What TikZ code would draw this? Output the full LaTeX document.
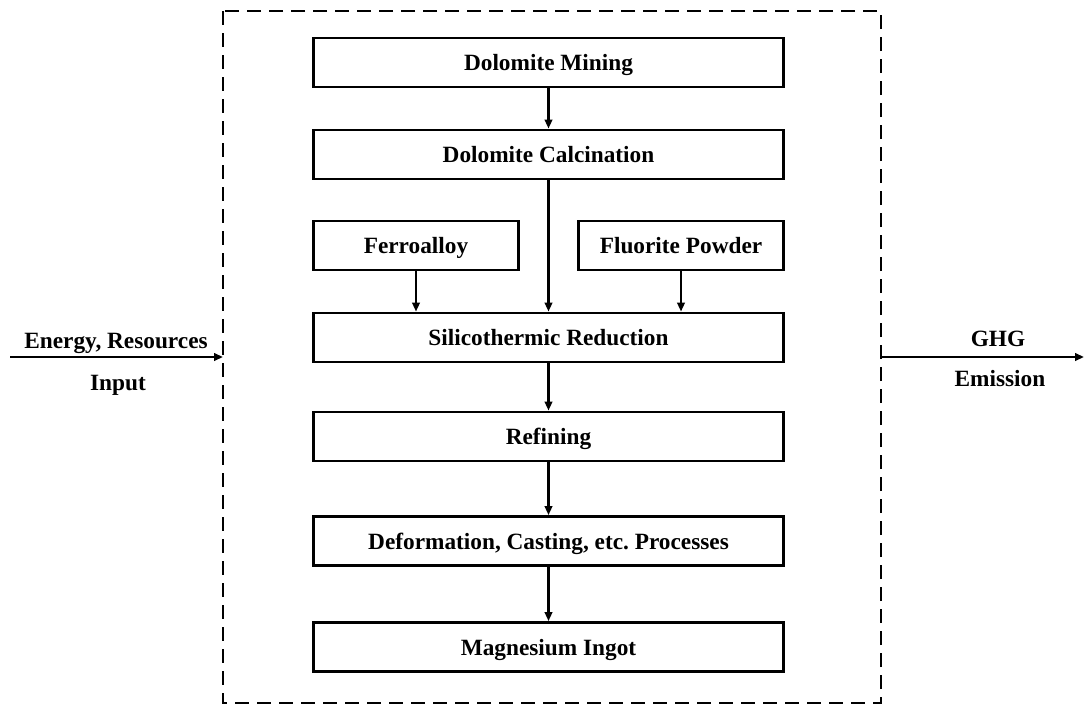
\documentclass[tikz,border=0pt]{standalone}
\usepackage{fontspec}
\setmainfont{Liberation Serif}
\usetikzlibrary{arrows.meta}
\frenchspacing
\begin{document}
\begin{tikzpicture}[x=1pt,y=-1pt,
  every node/.style={font=\fontsize{23.3}{28}\selectfont\bfseries, text height=18pt, text depth=1.5pt},
  procbox/.style={draw=black, line width=2.8pt, minimum height=49pt, inner sep=0pt},
  widebox/.style={procbox, minimum width=470pt},
  sidebox/.style={procbox, minimum width=205pt},
  flow/.style={line width=2.2pt, -{Triangle[length=9pt,width=7.5pt]}},
  lbl/.style={inner sep=0pt}
]
\useasboundingbox (0,0) rectangle (1084,704);

% system boundary
\draw[line width=2.8pt, dash pattern=on 14pt off 8pt] (223,11) rectangle (881,703);

% process chain
\node[widebox] (mining) at (548.5,62.5) {Dolomite Mining};
\node[widebox] (calc)   at (548.5,154.5) {Dolomite Calcination};
\node[sidebox] (ferro)  at (416,245.5) {Ferroalloy};
\node[sidebox] (fluor)  at (681,245.5) {Fluorite Powder};
\node[widebox] (silico) at (548.5,337.5) {Silicothermic Reduction};
\node[widebox] (refine) at (548.5,436.5) {Refining};
\node[widebox] (deform) at (548.5,541) {Deformation, Casting, etc. Processes};
\node[widebox] (ingot)  at (548.5,647) {Magnesium Ingot};

\draw[flow] (mining) -- (calc);
\draw[flow] (calc) -- (silico);
\draw[flow] (ferro) -- (ferro |- silico.north);
\draw[flow] (fluor) -- (fluor |- silico.north);
\draw[flow] (silico) -- (refine);
\draw[flow] (refine) -- (deform);
\draw[flow] (deform) -- (ingot);

% inputs and outputs across the boundary
\coordinate (inStart) at (10,357);
\coordinate (inEnd) at (223,357);
\coordinate (outStart) at (881,357);
\coordinate (outEnd) at (1084,357);
\draw[flow] (inStart) -- (inEnd);
\draw[flow] (outStart) -- (outEnd);
\node[lbl] (inTop) at (116,340) {Energy, Resources};
\node[lbl] (inBot) at (118,382) {Input};
\node[lbl] (outTop) at (998,338) {GHG};
\node[lbl] (outBot) at (1000,378) {Emission};
\end{tikzpicture}
\end{document}
